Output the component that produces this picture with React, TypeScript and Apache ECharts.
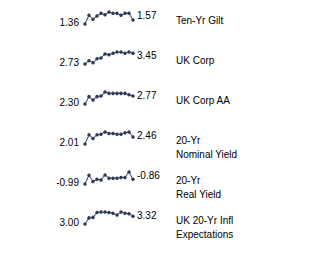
import React, { useEffect, useRef } from "react";
import * as echarts from "echarts";

const names: string[][] = [
  ["Ten-Yr Gilt"],
  ["UK Corp"],
  ["UK Corp AA"],
  ["20-Yr", "Nominal Yield"],
  ["20-Yr", "Real Yield"],
  ["UK 20-Yr Infl", "Expectations"],
];

const tenYrGilt = [1.36, 1.82, 1.61, 1.78, 1.92, 1.85, 1.99, 1.92, 1.92, 1.82, 1.92, 1.92, 1.57];
const ukCorp = [2.73, 2.95, 2.82, 3.09, 3.14, 3.41, 3.36, 3.45, 3.54, 3.54, 3.45, 3.54, 3.45];
const ukCorpAA = [2.30, 2.73, 2.53, 2.73, 2.77, 3.00, 2.92, 2.92, 2.92, 2.92, 2.92, 2.84, 2.77];
const nominal20 = [2.01, 2.59, 2.36, 2.59, 2.63, 2.77, 2.68, 2.68, 2.63, 2.63, 2.72, 2.77, 2.46];
const real20 = [-0.99, -0.75, -0.92, -0.86, -0.88, -0.74, -0.83, -0.83, -0.83, -0.81, -0.81, -0.66, -0.86];
const infl20 = [3.00, 3.25, 3.27, 3.47, 3.49, 3.49, 3.47, 3.44, 3.37, 3.49, 3.44, 3.42, 3.32];

const seriesData = [tenYrGilt, ukCorp, ukCorpAA, nominal20, real20, infl20];

export default function App() {
  const ref = useRef<HTMLDivElement>(null);
  useEffect(() => {
    if (!ref.current) return;
    const chart = echarts.init(ref.current, null, { renderer: "svg" });
    const lineColor = "#2d3a58";
    const font = "'Liberation Sans', Arial, sans-serif";
    const grids: any[] = [];
    const xAxes: any[] = [];
    const yAxes: any[] = [];
    const series: any[] = [];
    const graphics: any[] = [];
    seriesData.forEach((d, i) => {
      const bottom = 24 + i * 40;
      grids.push({ left: 85, top: bottom - 12, width: 48, height: 12 });
      xAxes.push({
        type: "category",
        gridIndex: i,
        data: d.map((_, k) => String(k)),
        boundaryGap: false,
        show: false,
      });
      yAxes.push({
        type: "value",
        gridIndex: i,
        min: "dataMin",
        max: "dataMax",
        show: false,
        scale: true,
      });
      series.push({
        type: "line",
        xAxisIndex: i,
        yAxisIndex: i,
        data: d,
        symbol: "circle",
        symbolSize: 3.5,
        showSymbol: true,
        showAllSymbol: true,
        lineStyle: { color: lineColor, width: 1 },
        itemStyle: { color: lineColor, borderWidth: 0 },
        silent: true,
      });
      graphics.push({
        type: "text",
        x: 79,
        y: bottom - 2,
        style: {
          text: d[0].toFixed(2),
          align: "right",
          verticalAlign: "middle",
          font: `10px ${font}`,
          fill: "#000",
        },
      });
      graphics.push({
        type: "text",
        x: 137,
        y: bottom - 9,
        style: {
          text: d[d.length - 1].toFixed(2),
          align: "left",
          verticalAlign: "middle",
          font: `10px ${font}`,
          fill: "#000",
        },
      });
      names[i].forEach((line, j) => {
        graphics.push({
          type: "text",
          x: 176,
          y: bottom - 4 + j * 14,
          style: {
            text: line,
            align: "left",
            verticalAlign: "middle",
            font: `10px ${font}`,
            fill: "#000",
          },
        });
      });
    });
    chart.setOption({
      animation: false,
      backgroundColor: "#ffffff",
      grid: grids,
      xAxis: xAxes,
      yAxis: yAxes,
      series,
      graphic: graphics,
    });
    return () => chart.dispose();
  }, []);
  return (
    <div
      ref={ref}
      style={{ position: "fixed", left: 0, top: 0, width: 329, height: 257 }}
    />
  );
}
